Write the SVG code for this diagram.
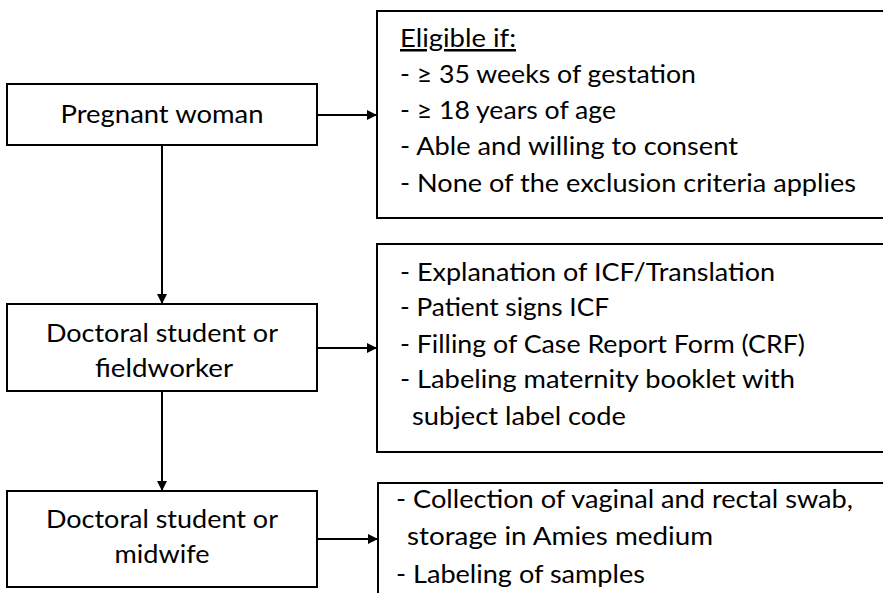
<svg xmlns="http://www.w3.org/2000/svg" width="883" height="593" viewBox="0 0 883 593">
  <style>
    .box { fill: #ffffff; stroke: #000000; stroke-width: 2; }
    .conn { stroke: #000000; stroke-width: 2; fill: none; }
    .t { font-family: Lato, "Liberation Sans", sans-serif; font-size: 25px; fill: #000000; }
    .c { text-anchor: middle; }
  </style>
  <defs>
    <marker id="arrow" markerUnits="userSpaceOnUse" markerWidth="10" markerHeight="10" viewBox="0 0 10 10" refX="10" refY="5" orient="auto">
      <path d="M0,0 L10,5 L0,10 z" fill="#000000"/>
    </marker>
  </defs>
  <rect width="883" height="593" fill="#ffffff"/>

  <g id="connectors">
    <line class="conn" x1="317" y1="115" x2="377" y2="115" marker-end="url(#arrow)"/>
    <line class="conn" x1="162" y1="146" x2="162" y2="304" marker-end="url(#arrow)"/>
    <line class="conn" x1="317" y1="348" x2="377" y2="348" marker-end="url(#arrow)"/>
    <line class="conn" x1="162" y1="391" x2="162" y2="491" marker-end="url(#arrow)"/>
    <line class="conn" x1="317" y1="539" x2="378" y2="539" marker-end="url(#arrow)"/>
  </g>

  <g id="pregnant-woman">
    <rect class="box" x="7" y="84" width="310" height="61"/>
    <text class="t c" x="162" y="123" textLength="203" lengthAdjust="spacingAndGlyphs">Pregnant woman</text>
  </g>

  <g id="eligibility">
    <rect class="box" x="377" y="11" width="520" height="207"/>
    <text class="t" x="400" y="47" textLength="116" lengthAdjust="spacingAndGlyphs" text-decoration="underline">Eligible if:</text>
    <text class="t" x="400" y="83" textLength="296" lengthAdjust="spacingAndGlyphs">- ≥ 35 weeks of gestation</text>
    <text class="t" x="400" y="119" textLength="216" lengthAdjust="spacingAndGlyphs">- ≥ 18 years of age</text>
    <text class="t" x="400" y="155" textLength="338" lengthAdjust="spacingAndGlyphs">- Able and willing to consent</text>
    <text class="t" x="400" y="192" textLength="456" lengthAdjust="spacingAndGlyphs">- None of the exclusion criteria applies</text>
  </g>

  <g id="doctoral-fieldworker">
    <rect class="box" x="7" y="304" width="310" height="87"/>
    <text class="t c" x="162" y="342" textLength="232" lengthAdjust="spacingAndGlyphs">Doctoral student or</text>
    <text class="t c" x="164" y="377" textLength="138" lengthAdjust="spacingAndGlyphs">fieldworker</text>
  </g>

  <g id="consent-steps">
    <rect class="box" x="377" y="244" width="520" height="208"/>
    <text class="t" x="400" y="281" textLength="375" lengthAdjust="spacingAndGlyphs">- Explanation of ICF/Translation</text>
    <text class="t" x="400" y="316" textLength="209" lengthAdjust="spacingAndGlyphs">- Patient signs ICF</text>
    <text class="t" x="400" y="353" textLength="405" lengthAdjust="spacingAndGlyphs">- Filling of Case Report Form (CRF)</text>
    <text class="t" x="400" y="388" textLength="395" lengthAdjust="spacingAndGlyphs">- Labeling maternity booklet with</text>
    <text class="t" x="412" y="425" textLength="214" lengthAdjust="spacingAndGlyphs">subject label code</text>
  </g>

  <g id="doctoral-midwife">
    <rect class="box" x="7" y="491" width="310" height="96"/>
    <text class="t c" x="162" y="528" textLength="232" lengthAdjust="spacingAndGlyphs">Doctoral student or</text>
    <text class="t c" x="162" y="563" textLength="95" lengthAdjust="spacingAndGlyphs">midwife</text>
  </g>

  <g id="sampling-steps">
    <rect class="box" x="378" y="483" width="520" height="200"/>
    <text class="t" x="396" y="508" textLength="457" lengthAdjust="spacingAndGlyphs">- Collection of vaginal and rectal swab,</text>
    <text class="t" x="407" y="545" textLength="306" lengthAdjust="spacingAndGlyphs">storage in Amies medium</text>
    <text class="t" x="396" y="583" textLength="249" lengthAdjust="spacingAndGlyphs">- Labeling of samples</text>
  </g>
</svg>
